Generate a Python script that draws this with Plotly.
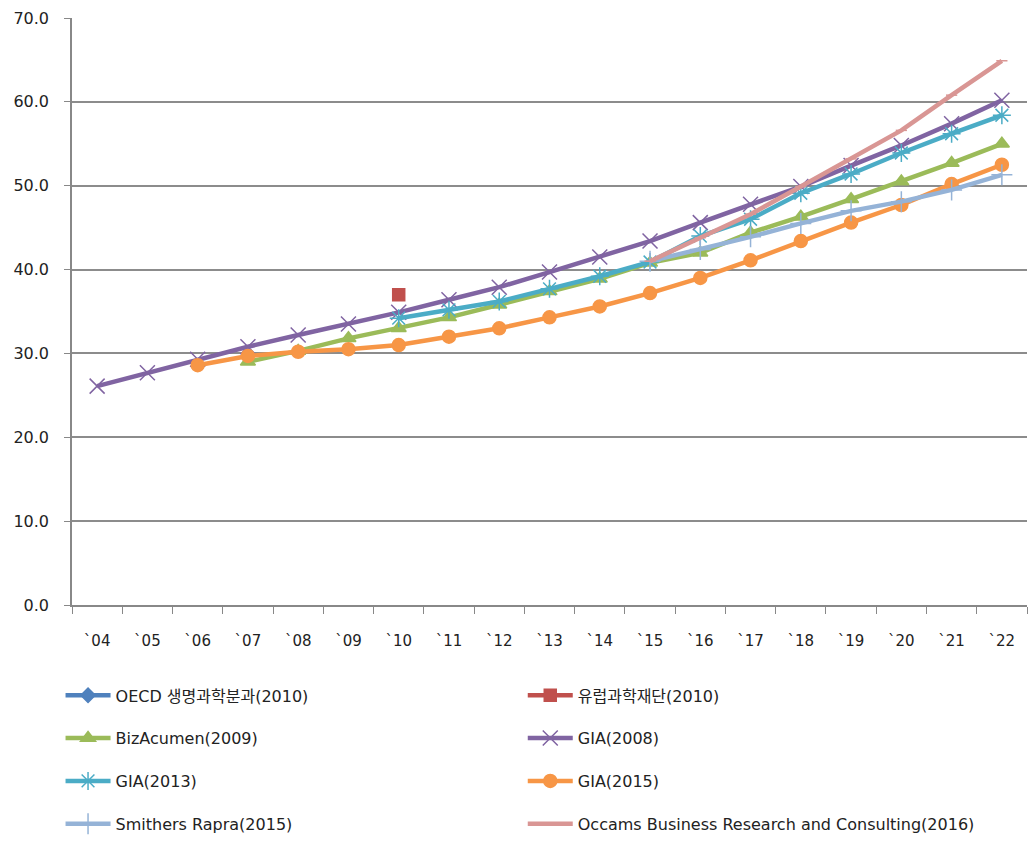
import plotly.graph_objects as go

years = ["`04", "`05", "`06", "`07", "`08", "`09", "`10", "`11", "`12", "`13",
         "`14", "`15", "`16", "`17", "`18", "`19", "`20", "`21", "`22"]

N = None
oecd_2010 = [N] * 19
esf_2010 = [N, N, N, N, N, N, 37.0, N, N, N, N, N, N, N, N, N, N, N, N]
bizacumen_2009 = [N, N, N, 29.0, 30.3, 31.8, 33.0, 34.3, 35.8, 37.4,
                  38.9, 40.8, 42.0, 44.4, 46.3, 48.4, 50.5, 52.7, 55.0]
gia_2008 = [26.1, 27.7, 29.3, 30.8, 32.2, 33.5, 34.9, 36.4, 37.9, 39.7,
            41.5, 43.4, 45.6, 47.8, 49.9, 52.4, 54.8, 57.4, 60.2]
gia_2013 = [N, N, N, N, N, N, 34.2, 35.2, 36.2, 37.7,
            39.2, 40.9, 44.0, 46.0, 49.1, 51.4, 53.9, 56.2, 58.4]
gia_2015 = [N, N, 28.6, 29.7, 30.2, 30.5, 31.0, 32.0, 33.0, 34.3,
            35.6, 37.2, 39.0, 41.1, 43.4, 45.6, 47.7, 50.2, 52.5]
smithers_2015 = [N, N, N, N, N, N, N, N, N, N,
                 N, 41.0, 42.4, 43.9, 45.5, 47.0, 48.1, 49.5, 51.3]
occams_2016 = [N, N, N, N, N, N, N, N, N, N,
               N, 41.0, 43.8, 46.6, 49.9, 53.2, 56.6, 60.8, 64.9]

y_ticks = [0, 10, 20, 30, 40, 50, 60, 70]

series = [
    ("OECD 생명과학분과(2010)", oecd_2010, "#4F81BD", "diamond", 11, "legend"),
    ("유럽과학재단(2010)", esf_2010, "#C0504D", "square", 12, "legend2"),
    ("BizAcumen(2009)", bizacumen_2009, "#9BBB59", "triangle-up", 13, "legend"),
    ("GIA(2008)", gia_2008, "#8064A2", "x-thin-open", 15, "legend2"),
    ("GIA(2013)", gia_2013, "#4BACC6", "asterisk-open", 15, "legend"),
    ("GIA(2015)", gia_2015, "#F79646", "circle", 13, "legend2"),
    ("Smithers Rapra(2015)", smithers_2015, "#95B3D7", "cross-thin-open", 15, "legend"),
    ("Occams Business Research and Consulting(2016)", occams_2016, "#D99694",
     "line-ew-open", 8, "legend2"),
]

fig = go.Figure()
for i, (name, vals, color, sym, size, leg) in enumerate(series):
    fig.add_trace(go.Scatter(
        x=years, y=vals, name=name, mode="lines+markers",
        line=dict(color=color, width=4.5),
        marker=dict(symbol=sym, size=size, color=color,
                    line=dict(color=color, width=1.5)),
        legend=leg, legendgroup=f"g{i}",
        connectgaps=False,
    ))

base_font = "DejaVu Sans, Noto Sans CJK KR"
legend_font = dict(family=base_font, size=16, color="#222222")

fig.update_layout(
    width=1029, height=842,
    margin=dict(l=72, r=2, t=18, b=237, autoexpand=False),
    paper_bgcolor="white", plot_bgcolor="white",
    font=dict(family=base_font, size=15, color="#222222"),
    xaxis=dict(
        type="category", categoryorder="array", categoryarray=years,
        showgrid=False, showline=True, linecolor="#888888", linewidth=1.5,
        ticks="outside", tickson="boundaries", ticklen=7, tickcolor="#888888",
        tickfont=dict(family=base_font, size=15), range=[-0.5, 18.5],
        ticklabelstandoff=21,
    ),
    yaxis=dict(
        range=[0, 70], tickvals=y_ticks, tickformat=".1f",
        showgrid=True, gridcolor="#8c8c8c", gridwidth=1.5,
        showline=True, linecolor="#888888", linewidth=1.5,
        ticks="outside", ticklen=6, tickcolor="#888888",
        tickfont=dict(family=base_font, size=16), zeroline=False,
        ticklabelstandoff=12,
    ),
    legend=dict(
        x=-0.012, y=-0.125, xanchor="left", yanchor="top",
        orientation="v", tracegroupgap=19, font=legend_font,
        itemwidth=45, bgcolor="rgba(0,0,0,0)",
    ),
    legend2=dict(
        x=0.472, y=-0.125, xanchor="left", yanchor="top",
        orientation="v", tracegroupgap=19, font=legend_font,
        itemwidth=45, bgcolor="rgba(0,0,0,0)",
    ),
)

fig.write_html("out.html")
